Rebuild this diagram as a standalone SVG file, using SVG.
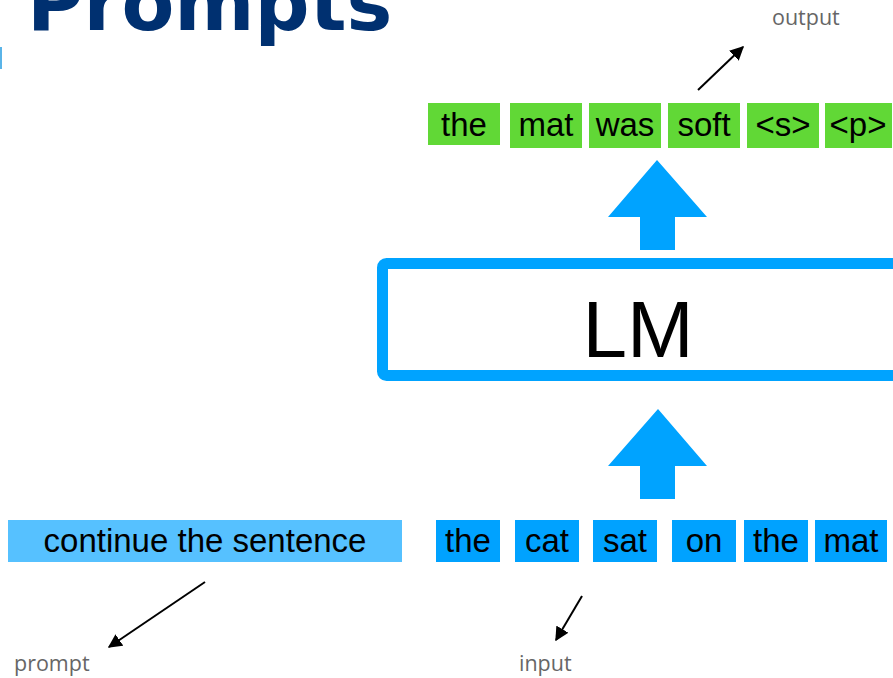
<svg xmlns="http://www.w3.org/2000/svg" width="893" height="678" viewBox="0 0 893 678">
<style>
.tok{font-family:"Liberation Sans",Arial,sans-serif;font-size:33px;fill:#000;text-anchor:middle}
.lbl{font-family:"Open Sans","DejaVu Sans",sans-serif;font-size:21.5px;fill:#666}
.out{fill:#61D836}
.inp{fill:#00A2FF}
.big{fill:#00A3FF}
.ptr{stroke:#000;stroke-width:2;fill:none}
</style>
<defs>
<marker id="ah" viewBox="0 0 10 10" refX="9" refY="5" markerWidth="7" markerHeight="7" orient="auto" markerUnits="strokeWidth">
<path d="M0,0 L10,5 L0,10 Z" fill="#000"/>
</marker>
</defs>
<rect width="893" height="678" fill="#fff"/>
<g id="title">
<text x="27" y="30" font-family="'DejaVu Sans',Verdana,sans-serif" font-weight="bold" font-size="77" fill="#003070">Prompts</text>
<rect x="0" y="47" width="2" height="22" fill="#5AB4E8"/>
</g>
<g id="output-tokens">
<g id="o1"><rect class="out" x="428" y="103" width="72" height="42"/><text class="tok" x="464" y="136">the</text></g>
<g id="o2"><rect class="out" x="510" y="103" width="72" height="45"/><text class="tok" x="546" y="136">mat</text></g>
<g id="o3"><rect class="out" x="589" y="103" width="72" height="45"/><text class="tok" x="625" y="136">was</text></g>
<g id="o4"><rect class="out" x="668" y="103" width="72" height="45"/><text class="tok" x="704" y="136">soft</text></g>
<g id="o5"><rect class="out" x="747" y="103" width="72" height="45"/><text class="tok" x="783" y="136">&lt;s&gt;</text></g>
<g id="o6"><rect class="out" x="825" y="103" width="67" height="45"/><text class="tok" x="858" y="136">&lt;p&gt;</text></g>
</g>
<g id="lm">
<rect x="382.5" y="263.5" width="520" height="112" rx="4" fill="#fff" stroke="#00A3FF" stroke-width="11"/>
<text x="638" y="357" font-family="'Liberation Sans',Arial,sans-serif" font-size="80" text-anchor="middle" fill="#000">LM</text>
</g>
<g id="arrow-up-top"><path class="big" d="M657,160 L707,217 L675,217 L675,250 L640,250 L640,217 L608,217 Z"/></g>
<g id="arrow-up-bottom"><path class="big" d="M658,409 L707,466 L675,466 L675,499 L640,499 L640,466 L608,466 Z"/></g>
<g id="prompt"><rect x="8" y="520" width="394" height="42" fill="#56C1FF"/><text class="tok" x="205" y="552">continue the sentence</text></g>
<g id="input-tokens">
<g id="i1"><rect class="inp" x="436" y="520" width="64" height="42"/><text class="tok" x="468" y="552">the</text></g>
<g id="i2"><rect class="inp" x="515" y="520" width="64" height="42"/><text class="tok" x="547" y="552">cat</text></g>
<g id="i3"><rect class="inp" x="593" y="520" width="64" height="42"/><text class="tok" x="625" y="552">sat</text></g>
<g id="i4"><rect class="inp" x="672" y="520" width="64" height="42"/><text class="tok" x="704" y="552">on</text></g>
<g id="i5"><rect class="inp" x="744" y="520" width="64" height="42"/><text class="tok" x="776" y="552">the</text></g>
<g id="i6"><rect class="inp" x="815" y="520" width="72" height="42"/><text class="tok" x="851" y="552">mat</text></g>
</g>
<g id="connectors">
<line class="ptr" x1="698" y1="90" x2="743" y2="47" marker-end="url(#ah)"/>
<line class="ptr" x1="205" y1="582" x2="109" y2="647" marker-end="url(#ah)"/>
<line class="ptr" x1="582" y1="596" x2="556" y2="640" marker-end="url(#ah)"/>
</g>
<g id="labels">
<text class="lbl" x="772" y="25">output</text>
<text class="lbl" x="14" y="671">prompt</text>
<text class="lbl" x="519" y="671">input</text>
</g>
</svg>
